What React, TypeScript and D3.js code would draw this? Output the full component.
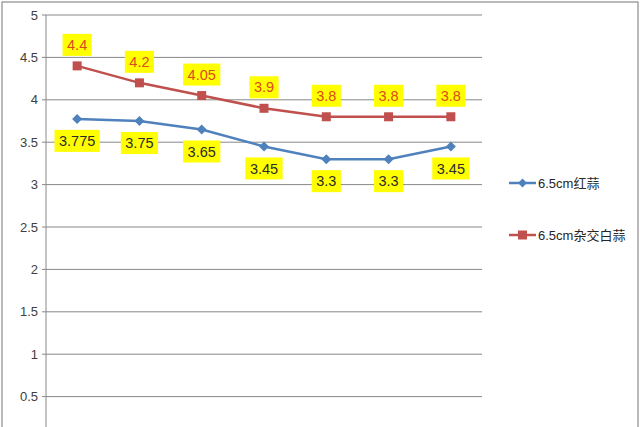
import { useMemo } from "react";
import * as d3 from "d3";

const categories = ["1", "2", "3", "4", "5", "6", "7"];
const redGarlic = [3.775, 3.75, 3.65, 3.45, 3.3, 3.3, 3.45];
const hybridWhite = [4.4, 4.2, 4.05, 3.9, 3.8, 3.8, 3.8];
const yTicks = [0.5, 1, 1.5, 2, 2.5, 3, 3.5, 4, 4.5, 5];
const seriesNames = ["6.5cm红蒜", "6.5cm杂交白蒜"];

const W = 640;
const H = 427;
const font = "'Liberation Sans', Arial, 'Noto Sans CJK SC', sans-serif";

const BLUE = "#4F81BD";
const RED = "#C0504D";
const LABEL_FS = 14.5;

// rough width of a number string in Liberation Sans
const textWidth = (s: string) =>
    s.split("").reduce((w, ch) => w + (ch === "." ? 0.278 : 0.556), 0) * LABEL_FS;

const Label = ({ x, y, text, color }: { x: number; y: number; text: string; color: string }) => {
    const w = textWidth(text) + 9;
    return (
        <g>
            <rect x={x - w / 2} y={y - 11} width={w} height={22} fill="#FFFF00" />
            <text x={x} y={y + 5.2} fontSize={LABEL_FS} textAnchor="middle" fill={color} fontFamily={font}>
                {text}
            </text>
        </g>
    );
};

export default function App() {
    const x = useMemo(() => d3.scaleBand<string>().domain(categories).range([46, 482]), []);
    const y = useMemo(() => d3.scaleLinear().domain([0, 5]).range([439, 15]), []);
    const cx = (c: string) => (x(c) ?? 0) + x.bandwidth() / 2;

    const line = d3
        .line<number>()
        .x((_, i) => cx(categories[i]))
        .y((d) => y(d));

    return (
        <div style={{ position: "fixed", left: 0, top: 0 }}>
            <svg width={W} height={H} style={{ display: "block", background: "#fff" }}>
                <rect x={2} y={2} width={636} height={440} fill="#fff" stroke="#8c8c8c" strokeWidth={1.2} />

                {/* gridlines + ticks */}
                {yTicks.map((t) => (
                    <g key={t}>
                        <line x1={42} x2={482} y1={y(t)} y2={y(t)} stroke="#888" strokeWidth={1} />
                        <text
                            x={38}
                            y={y(t) + 4.5}
                            fontSize={13}
                            textAnchor="end"
                            fill="#404040"
                            fontFamily={font}
                        >
                            {t}
                        </text>
                    </g>
                ))}
                <line x1={46} x2={46} y1={15} y2={440} stroke="#888" strokeWidth={1} />

                {/* series */}
                <path d={line(redGarlic) ?? ""} fill="none" stroke={BLUE} strokeWidth={2.5} />
                <path d={line(hybridWhite) ?? ""} fill="none" stroke={RED} strokeWidth={2.5} />

                {redGarlic.map((v, i) => {
                    const px = cx(categories[i]);
                    const py = y(v);
                    return (
                        <path
                            key={"b" + i}
                            d={`M${px},${py - 5}L${px + 5},${py}L${px},${py + 5}L${px - 5},${py}Z`}
                            fill={BLUE}
                        />
                    );
                })}
                {hybridWhite.map((v, i) => {
                    const px = cx(categories[i]);
                    const py = y(v);
                    return <rect key={"r" + i} x={px - 4.5} y={py - 4.5} width={9} height={9} fill={RED} />;
                })}

                {/* data labels */}
                {redGarlic.map((v, i) => (
                    <Label key={"lb" + i} x={cx(categories[i])} y={y(v) + 22} text={String(v)} color="#2b2b2b" />
                ))}
                {hybridWhite.map((v, i) => (
                    <Label key={"lr" + i} x={cx(categories[i])} y={y(v) - 21} text={String(v)} color="#DC4A1E" />
                ))}

                {/* legend */}
                {seriesNames.map((name, i) => {
                    const ly = 183 + i * 52;
                    const c = i === 0 ? BLUE : RED;
                    return (
                        <g key={name}>
                            <line x1={509} x2={536} y1={ly} y2={ly} stroke={c} strokeWidth={2.5} />
                            {i === 0 ? (
                                <path d={`M522.5,${ly - 4.5}L527,${ly}L522.5,${ly + 4.5}L518,${ly}Z`} fill={c} />
                            ) : (
                                <rect x={518} y={ly - 4.5} width={9} height={9} fill={c} />
                            )}
                            <text x={538} y={ly + 4.5} fontSize={13} fill="#262626" fontFamily={font}>
                                {name}
                            </text>
                        </g>
                    );
                })}
            </svg>
        </div>
    );
}
